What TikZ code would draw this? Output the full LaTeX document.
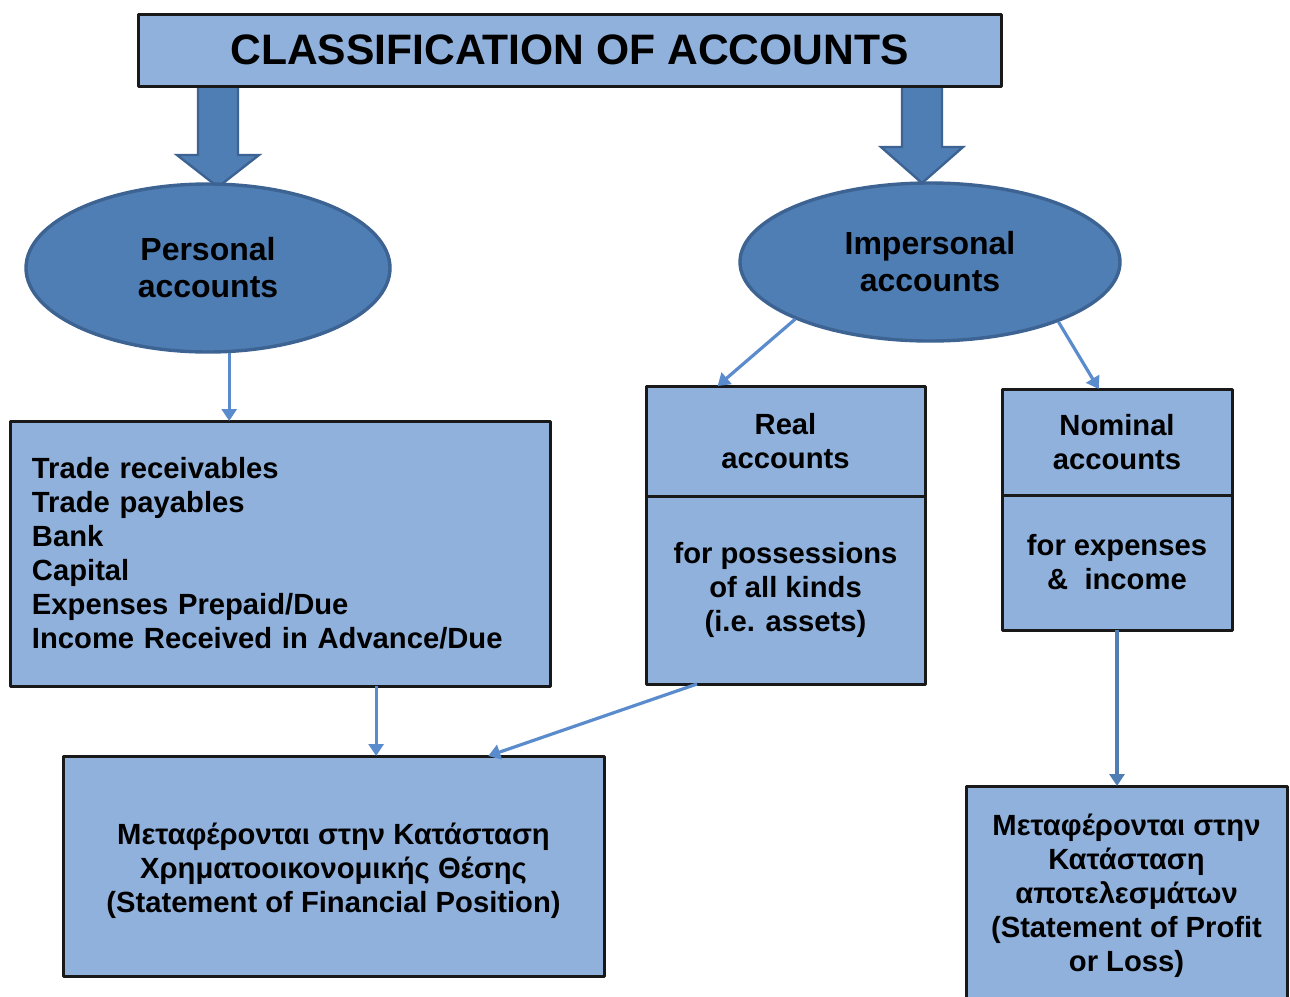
\documentclass[tikz,border=0pt]{standalone}
\usepackage{fontspec}
\setmainfont{Liberation Sans}
\usetikzlibrary{arrows.meta,calc,positioning,backgrounds,shapes.geometric}
\definecolor{boxblue}{HTML}{8FB1DC}
\definecolor{ellblue}{HTML}{4F7EB5}
\definecolor{elledge}{HTML}{3D6392}
\definecolor{arrblue}{HTML}{5A8BCC}
\tikzset{
	box/.style={draw=black!90, line width=1.5pt, fill=boxblue, align=center, inner sep=0pt, outer sep=0pt, font=\fontsize{14.6}{17}\selectfont\bfseries},
	acc/.style={ellipse, draw=elledge, line width=1.7pt, fill=ellblue, align=center, inner sep=0pt, font=\fontsize{16}{18.5}\selectfont\bfseries},
	conn/.style={draw=arrblue, line width=1.6pt, -{Triangle[width=7.5pt,length=6pt]}},
	blockarr/.style={draw=elledge, line width=1.2pt, fill=ellblue, line join=miter}
}
\begin{document}
\begin{tikzpicture}[x=0.5pt, y=-0.5pt, line join=round]
			\useasboundingbox (0,0) rectangle (1290,996);
			\node[box, minimum width=431.5pt, minimum height=36pt, font=\fontsize{21.3}{24}\selectfont\bfseries] (title) at (569.5,50) {CLASSIFICATION OF ACCOUNTS};
			\node[acc, minimum width=182pt, minimum height=84pt] (pers) at (208,268) {Personal\\accounts};
			\node[acc, minimum width=190pt, minimum height=79pt] (imp) at (930,262) {Impersonal\\accounts};
			\node[box, minimum height=132.5pt, text width=248pt, inner xsep=11pt, align=left] (list) at (280,553.5) {Trade receivables\\Trade payables\\Bank\\Capital\\Expenses Prepaid/Due\\Income Received in Advance/Due};
			\node[box, minimum width=139.5pt, minimum height=55pt] (realh) at (785.5,441) {Real\\accounts};
			\node[box, minimum width=139.5pt, minimum height=94pt, below=0pt of realh] (realb) {for possessions\\of all kinds\\(i.e. assets)};
			\node[box, minimum width=115pt, minimum height=53pt] (nomh) at (1117,442) {Nominal\\accounts};
			\node[box, minimum width=115pt, minimum height=67.5pt, below=0pt of nomh] (nomb) {for expenses\\\&\ \ income};
			\node[box, minimum width=270.5pt, minimum height=110pt] (fp) at (333.5,866) {\rule{0pt}{15.5pt}Μεταφέρονται στην Κατάσταση\\Χρηματοοικονομικής Θέσης\\(Statement of Financial Position)};
			\node[box, minimum width=160.5pt, minimum height=109.5pt] (pl) at (1126.5,895.5) {Μεταφέρονται στην\\Κατάσταση\\αποτελεσμάτων\\(Statement of Profit\\or Loss)};
			\begin{scope}[on background layer]
				\foreach \x/\h/\t in {218/155/187, 922/147/183}
				\draw[blockarr] (\x-20,86) -- (\x+20,86) -- (\x+20,\h) -- (\x+41,\h) -- (\x,\t) -- (\x-41,\h) -- (\x-20,\h) -- cycle;
			\end{scope}
			\coordinate (ls) at ($(list.south west)!0.678!(list.south east)$);
			\draw[conn] (pers.-76) -- (pers.-76 |- list.north);
			\draw[conn] (imp.203) -- (realh.141.6);
			\draw[conn] (imp.-25) -- (nomh.109);
			\draw[conn] (ls) -- (ls |- fp.north);
			\draw[conn] ($(realb.south west)!0.183!(realb.south east)$) -- ($(fp.north west)!0.786!(fp.north east)$);
			\draw[conn, draw=ellblue] (nomb.south) -- (nomb.south |- pl.north);
		\end{tikzpicture}
\end{document}
